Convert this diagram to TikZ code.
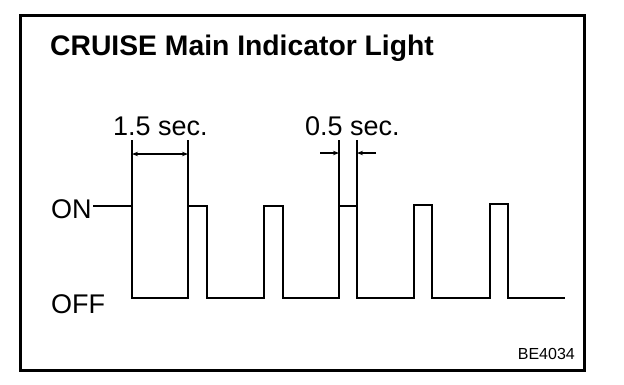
\documentclass[tikz,border=0pt]{standalone}
\usepackage{fontspec}
\setmainfont{Liberation Sans}
\usetikzlibrary{arrows.meta}
\begin{document}
\begin{tikzpicture}[x=1pt,y=-1pt,
  lbl/.style={inner sep=0pt,anchor=base west,font=\fontsize{27}{30}\selectfont},
  wave/.style={line width=2pt,line join=miter},
  ext/.style={line width=1.4pt},
  dim/.style={line width=1.4pt,-{Stealth[length=6pt,width=4.5pt]}}]
\useasboundingbox (0,0) rectangle (624,384);
\node[draw,line width=3pt,minimum width=564pt,minimum height=355pt,anchor=north west,inner sep=0pt] (frame) at (19,14) {};
\node[inner sep=0pt,anchor=base west,font=\bfseries\fontsize{28.3}{31}\selectfont] (title) at (50,55) {CRUISE Main Indicator Light};
\node[lbl] (t15) at (113,135) {1.5 sec.};
\node[lbl] (t05) at (305,135) {0.5 sec.};
\node[lbl,font=\fontsize{27}{30}\selectfont] (on) at (51,218) {ON};
\node[lbl,font=\fontsize{27}{30}\selectfont] (off) at (51,313) {OFF};
\node[inner sep=0pt,anchor=base east,font=\fontsize{16}{18}\selectfont] (code) at (575,359) {BE4034};
% waveform
\coordinate (s) at (93,206);
\draw[wave] (s) -- (132,206) -- (132,298) -- (188,298) -- (188,206) -- (207,206) -- (207,298)
  -- (264,298) -- (264,206) -- (283,206) -- (283,298) -- (339,298) -- (339,206) -- (357,206)
  -- (357,298) -- (414,298) -- (414,205) -- (432,205) -- (432,298) -- (490,298) -- (490,204)
  -- (508,204) -- (508,298) -- (565,298);
% extension lines
\coordinate (e1) at (132,140); \coordinate (e1b) at (132,206);
\coordinate (e2) at (188,140); \coordinate (e2b) at (188,206);
\coordinate (e3) at (339,140); \coordinate (e3b) at (339,206);
\coordinate (e4) at (357,140); \coordinate (e4b) at (357,206);
\draw[ext] (e1) -- (e1b);
\draw[ext] (e2) -- (e2b);
\draw[ext] (e3) -- (e3b);
\draw[ext] (e4) -- (e4b);
% dimension arrows
\coordinate (d1) at (132,154); \coordinate (d2) at (188,154);
\coordinate (d3) at (339,153); \coordinate (d4) at (357,153);
\coordinate (d3o) at (320,153); \coordinate (d4o) at (376,153);
\draw[dim,{Stealth[length=6pt,width=4.5pt]}-{Stealth[length=6pt,width=4.5pt]}] (d1) -- (d2);
\draw[dim] (d3o) -- (d3);
\draw[dim] (d4o) -- (d4);
\end{tikzpicture}
\end{document}
